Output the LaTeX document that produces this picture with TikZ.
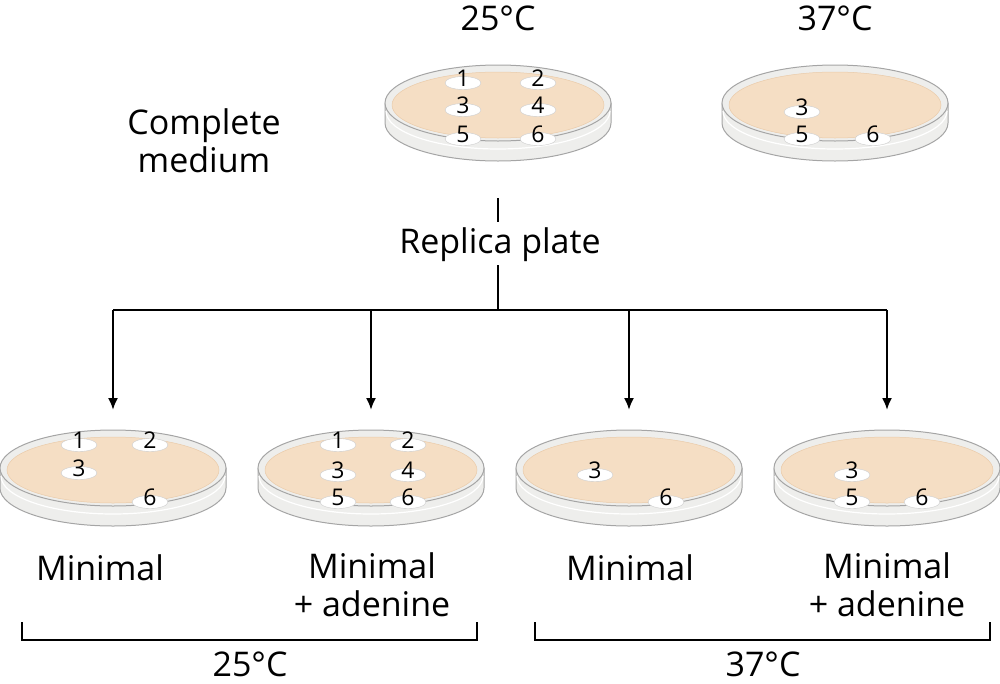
\documentclass[tikz,border=0pt]{standalone}
\usepackage{fontspec}
\setmainfont{Open Sans}
\definecolor{agar}{RGB}{245,222,196}
\definecolor{rim}{RGB}{238,238,236}
\definecolor{edge}{RGB}{165,165,165}
\tikzset{lbl/.style={font=\fontsize{34}{38}\selectfont, align=center},
num/.style={font=\fontsize{23}{24}\selectfont},
conn/.style={line width=2pt},
arr/.style={line width=2pt,-{Latex[length=12pt,width=10pt]}}}
\usetikzlibrary{arrows.meta}
\newcommand\plate[3]{%
 \fill[rim,draw=edge,line width=1pt] (#1-113,#2) -- (#1-113,#2+20) arc[start angle=180,end angle=0,x radius=113,y radius=38] -- (#1+113,#2) -- cycle;
 \draw[white,line width=1.2pt] (#1-112,#2+8) arc[start angle=180,end angle=0,x radius=112,y radius=38];
 \draw[edge,line width=1pt,fill=rim] (#1,#2) ellipse[x radius=113,y radius=38];
 \fill[agar,draw=agar!80!brown,line width=0.5pt] (#1,#2+2) ellipse[x radius=106,y radius=33];
 \node[coordinate] (#3) at (#1,#2) {};}
\newcommand\col[4]{%
 \fill[white,draw=gray!40,line width=0.4pt] (#1,#2+5) ellipse[x radius=18,y radius=6.5];
 \node[num] (#4) at (#1,#2) {#3};}
\begin{document}
\begin{tikzpicture}[x=1pt,y=-1pt]
\useasboundingbox (0,0) rectangle (1000,683);
\plate{498}{103}{pa}
\col{463}{78}{1}{a1}\col{538}{78}{2}{a2}\col{463}{105}{3}{a3}\col{538}{105}{4}{a4}\col{463}{134}{5}{a5}\col{538}{134}{6}{a6}
\plate{835}{103}{pb}
\col{802}{107}{3}{b3}\col{802}{134}{5}{b5}\col{873}{134}{6}{b6}
\node[lbl] (t25) at (498,18) {25°C};
\node[lbl] (t37) at (835,18) {37°C};
\node[lbl] (cm) at (204,141) {Complete\\medium};
\node[lbl] (rp) at (500,245) {Replica plate};
\coordinate (r0) at (498,198);\coordinate (r1) at (498,222);
\coordinate (r2) at (498,265);\coordinate (j) at (498,310);
\draw[conn] (r0) -- (r1);
\draw[conn] (r2) -- (j);
\foreach \x/\n in {113/p1,371/p2,629/p3,887/p4}{\plate{\x}{468}{\n}}
\col{79}{440}{1}{c1}\col{150}{440}{2}{c2}\col{79}{468}{3}{c3}\col{150}{497}{6}{c6}
\col{338}{440}{1}{d1}\col{408}{440}{2}{d2}\col{338}{470}{3}{d3}\col{408}{470}{4}{d4}\col{338}{497}{5}{d5}\col{408}{497}{6}{d6}
\col{595}{470}{3}{e3}\col{666}{497}{6}{e6}
\col{852}{470}{3}{f3}\col{852}{497}{5}{f5}\col{922}{497}{6}{f6}
\coordinate (h1) at (113,310);\coordinate (h4) at (887,310);
\draw[conn] (h1) -- (h4);
\foreach \x in {113,371,629,887}{\draw[arr] (\x,310) -- (\x,410);}
\node[lbl] (m1) at (100,568) {Minimal};
\node[lbl] (m2) at (372,585) {Minimal\\+ adenine};
\node[lbl] (m3) at (630,568) {Minimal};
\node[lbl] (m4) at (887,585) {Minimal\\+ adenine};
\draw[line width=1.2pt] (22,622) -- (22,640) -- (477,640) -- (477,622);
\draw[line width=1.2pt] (535,622) -- (535,640) -- (990,640) -- (990,622);
\node[lbl] (b25) at (250,664) {25°C};
\node[lbl] (b37) at (763,664) {37°C};
\end{tikzpicture}
\end{document}
